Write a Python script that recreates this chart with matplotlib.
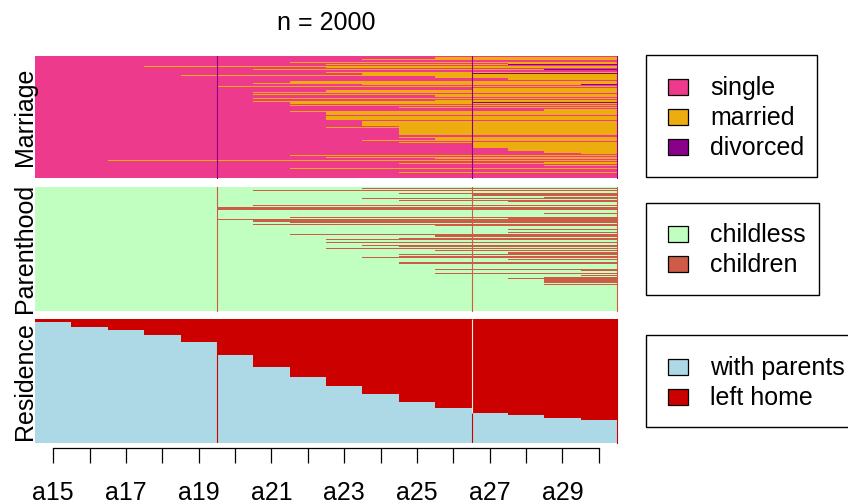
import numpy as np
import matplotlib.pyplot as plt
from matplotlib.patches import Rectangle

plt.rcParams['font.family'] = ['Liberation Sans', 'DejaVu Sans']

W, H = 848, 504
n_seq = 2000
ages = ["a%d" % a for a in range(15, 31)]

# state labels and colours per channel
marr_states = ["single", "married", "divorced"]
marr_cols = ["#EE3A8C", "#EEAD0E", "#8B008B"]
child_states = ["childless", "children"]
child_cols = ["#C1FFC1", "#CD5B45"]
res_states = ["with parents", "left home"]
res_cols = ["#ADD8E6", "#CD0000"]

# Marriage: first row (sorted order, top = 0), number of rows, column where marriage starts
marr_row = [27, 49, 103, 117, 146, 179, 190, 228, 266, 287, 325, 341, 363, 412, 423,
            455, 466, 504, 531, 569, 591, 629, 645, 688, 699, 732, 748, 759, 813, 835,
            867, 873, 911, 927, 960, 982, 992, 1073, 1149, 1161, 1171, 1183, 1195, 1207,
            1220, 1325, 1339, 1382, 1405, 1425, 1507, 1561, 1591, 1626, 1659, 1675, 1708,
            1734, 1756, 1794, 1837, 1902]
marr_n = [22, 27, 14, 29, 16, 12, 12, 12, 12, 27, 12, 20, 33, 12, 20,
          12, 14, 12, 38, 20, 25, 12, 30, 12, 12, 12, 12, 40, 12, 16,
          6, 32, 12, 25, 12, 10, 60, 76, 12, 10, 12, 12, 12, 13,
          81, 14, 43, 12, 20, 82, 54, 30, 24, 12, 12, 12, 12,
          20, 12, 12, 12, 12]
marr_col = [11, 9, 7, 13, 8, 3, 8, 6, 8, 9, 4, 11, 13, 5, 7,
            6, 9, 5, 12, 8, 6, 6, 11, 15, 6, 11, 6, 7, 7, 10,
            15, 14, 7, 8, 8, 11, 8, 9, 10, 13, 8, 10, 13, 10,
            10, 10, 11, 9, 10, 12, 13, 14, 15, 7, 8, 11, 2,
            14, 10, 14, 7, 10]
# divorce: first row, number of rows, column where divorce starts
div_row = [140, 225, 290, 469, 762]
div_n = [10, 10, 12, 10, 10]
div_col = [13, 14, 12, 15, 12]

# Parenthood: first row, number of rows, column where first child arrives
child_row = [27, 59, 108, 124, 172, 188, 215, 237, 258, 301, 328, 425, 495, 507, 527,
             543, 565, 602, 612, 683, 710, 737, 763, 780, 828, 850, 892, 898, 946, 958,
             995, 1022, 1054, 1086, 1118, 1140, 1172, 1210, 1333, 1344, 1398, 1425, 1452,
             1468, 1570]
child_n = [12, 12, 16, 20, 16, 12, 12, 12, 12, 12, 43, 12, 12, 12, 10,
           22, 27, 8, 18, 12, 12, 12, 12, 27, 22, 12, 22, 12, 12, 12,
           12, 16, 27, 12, 22, 12, 12, 33, 12, 16, 12, 16, 100,
           16, 12]
child_col = [9, 6, 10, 12, 14, 9, 10, 13, 13, 6, 5, 14, 7, 13, 5,
             6, 7, 6, 11, 13, 13, 13, 7, 11, 10, 8, 10, 8, 9, 10,
             8, 11, 13, 10, 10, 9, 13, 10, 11, 15, 11, 15, 14,
             13, 14]

# Residence: number still living with parents at each age
with_parents = [1952, 1870, 1822, 1742, 1628, 1418, 1224, 1062, 916, 788,
                658, 560, 474, 448, 398, 372]


def fig_box(left, top, right, bottom):
    return [left / W, 1 - bottom / H, (right - left) / W, (bottom - top) / H]


def make_panel(top, bottom, base):
    ax = fig.add_axes(fig_box(35, top, 617, bottom))
    ax.set_xlim(0, 16)
    ax.set_ylim(n_seq, 0)
    ax.set_facecolor(base)
    for s in ax.spines.values():
        s.set_visible(False)
    ax.set_xticks([])
    ax.set_yticks([])
    return ax


def spans(ax, rows, counts, cols, color):
    cols = np.array(cols)
    ax.barh(rows, 16 - cols, left=cols, height=counts, align='edge',
            color=color, linewidth=0)


fig = plt.figure(figsize=(W / 100, H / 100), dpi=100)

# marriage
ax1 = make_panel(55.5, 178, marr_cols[0])
spans(ax1, marr_row, marr_n, marr_col, marr_cols[1])
spans(ax1, div_row, div_n, div_col, marr_cols[2])
for x in (5, 12, 16):
    ax1.axvline(x, color=marr_cols[2], lw=0.8, clip_on=False)

# parenthood
ax2 = make_panel(186.7, 310.7, child_cols[0])
spans(ax2, child_row, child_n, child_col, child_cols[1])
for x in (5, 12, 16):
    ax2.axvline(x, color=child_cols[1], lw=0.8, clip_on=False)

# residence
wp = np.array(with_parents)
ax3 = make_panel(319, 442.7, res_cols[1])
ax3.bar(np.arange(16), wp, bottom=n_seq - wp, width=1, align='edge',
        color=res_cols[0], linewidth=0)
ax3.axvline(5, color=res_cols[1], lw=0.8)
ax3.vlines(12, 0, n_seq - wp[12], color="#F0F0F0", lw=0.8)
ax3.vlines(12, n_seq - wp[12], n_seq, color=res_cols[1], lw=0.8)
ax3.axvline(16, color=res_cols[1], lw=0.8, clip_on=False)

# x axis below the panels
axx = fig.add_axes([35 / W, 1 - 447.5 / H, 582 / W, 0.0001])
axx.set_xlim(0, 16)
axx.patch.set_visible(False)
for name in ("top", "left", "right"):
    axx.spines[name].set_visible(False)
axx.spines["bottom"].set_bounds(0.5, 15.5)
axx.spines["bottom"].set_linewidth(0.9)
axx.set_yticks([])
axx.set_xticks(np.arange(16) + 0.5)
axx.set_xticklabels([a if i % 2 == 0 else "" for i, a in enumerate(ages)], fontsize=18)
axx.tick_params(axis="x", length=11, width=0.9, pad=13)

# overlay for title, channel names and legends
lay = fig.add_axes([0, 0, 1, 1])
lay.set_xlim(0, W)
lay.set_ylim(H, 0)
lay.axis("off")

lay.text(326, 30, "n = %d" % n_seq, fontsize=18, ha="center", va="baseline")
for name, top, bottom in [("Marriage", 55.5, 178), ("Parenthood", 186.7, 310.7),
                          ("Residence", 319, 442.7)]:
    lay.text(32, (top + bottom) / 2, name, fontsize=18, rotation=90,
             rotation_mode="anchor", ha="center", va="baseline")

legends = [(marr_states, marr_cols, 55, 177, 817, 87),
           (child_states, child_cols, 203, 295, 819, 234),
           (res_states, res_cols, 335, 427, 880, 367)]
for states, cols, top, bottom, right, y0 in legends:
    lay.add_patch(Rectangle((646, top), right - 646, bottom - top, fill=False,
                            edgecolor="black", lw=1.0))
    for i, (s, c) in enumerate(zip(states, cols)):
        y = y0 + 30 * i
        lay.add_patch(Rectangle((668, y - 8), 20, 16, facecolor=c,
                                edgecolor="black", lw=0.9))
        lay.text(710, y + 8, s, fontsize=18, va="baseline", ha="left")

fig.savefig("out.png", dpi=100)
